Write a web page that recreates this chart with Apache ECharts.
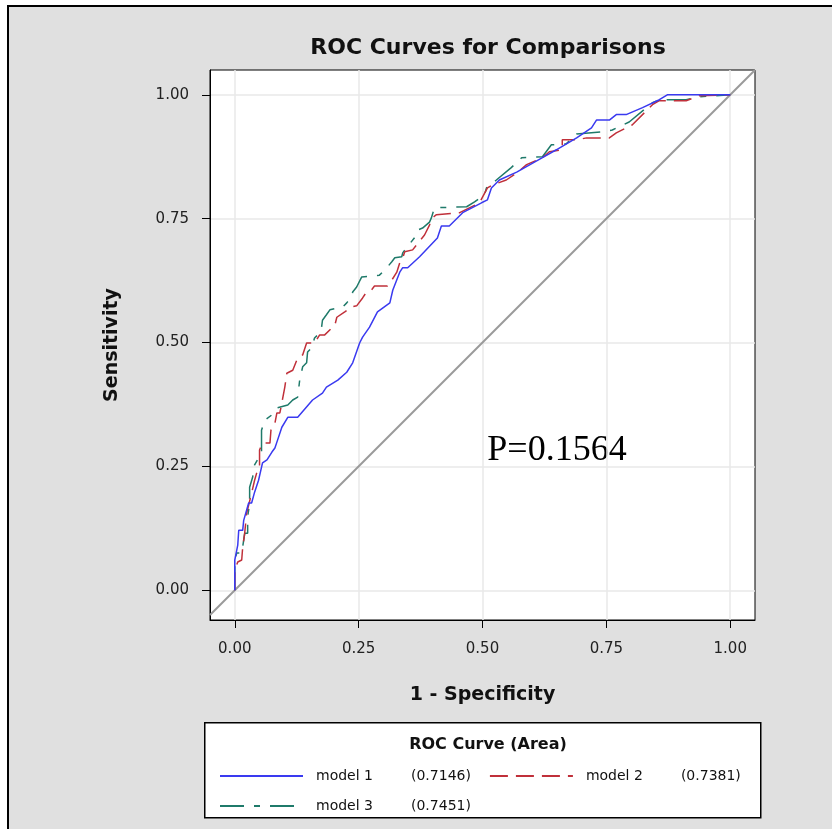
<!DOCTYPE html>
<html>
<head>
<meta charset="utf-8">
<script src="https://cdn.jsdelivr.net/npm/echarts@6/dist/echarts.min.js"></script>
<style>
html,body{margin:0;padding:0;width:832px;height:829px;overflow:hidden;background:#fff;}
#bg{position:absolute;left:7px;top:5px;width:900px;height:900px;background:#e0e0e0;border-left:2px solid #000;border-top:2px solid #000;}
#main{position:absolute;left:0;top:0;width:832px;height:829px;}
</style>
</head>
<body>
<div id="bg"></div>
<div id="main"></div>
<script>
// ---- data ----
const seriesNames = ['model 1', 'model 2', 'model 3'];
const aucValues = ['0.7146', '0.7381', '0.7451'];
const xTicks = [0, 0.25, 0.5, 0.75, 1];
const yTicks = [0, 0.25, 0.5, 0.75, 1];
const pLabel = 'P=0.1564';

const model1 = [[0,0],[0,0.061],[0.006,0.091],[0.008,0.121],[0.016,0.121],[0.018,0.141],[0.028,0.176],[0.034,0.176],[0.040,0.198],[0.048,0.222],[0.056,0.257],[0.065,0.263],[0.075,0.279],[0.081,0.287],[0.085,0.299],[0.095,0.329],[0.107,0.349],[0.127,0.349],[0.157,0.384],[0.177,0.398],[0.185,0.410],[0.208,0.424],[0.226,0.440],[0.238,0.459],[0.252,0.499],[0.258,0.511],[0.272,0.531],[0.288,0.562],[0.313,0.580],[0.319,0.606],[0.333,0.642],[0.339,0.651],[0.349,0.651],[0.373,0.673],[0.409,0.711],[0.417,0.735],[0.433,0.735],[0.460,0.762],[0.498,0.782],[0.510,0.788],[0.518,0.812],[0.534,0.828],[0.569,0.844],[0.621,0.873],[0.649,0.889],[0.690,0.913],[0.720,0.933],[0.730,0.949],[0.756,0.949],[0.770,0.960],[0.790,0.960],[0.823,0.974],[0.857,0.990],[0.873,1],[1,1]];

const model2 = [[0,0],[0,0.040],[0.006,0.057],[0.014,0.061],[0.016,0.087],[0.020,0.115],[0.024,0.156],[0.034,0.196],[0.040,0.222],[0.044,0.236],[0.050,0.248],[0.050,0.283],[0.056,0.297],[0.071,0.297],[0.073,0.323],[0.081,0.337],[0.085,0.358],[0.091,0.358],[0.095,0.378],[0.101,0.410],[0.105,0.438],[0.117,0.444],[0.127,0.469],[0.137,0.475],[0.145,0.499],[0.161,0.499],[0.171,0.515],[0.181,0.515],[0.202,0.535],[0.206,0.551],[0.222,0.562],[0.236,0.572],[0.246,0.574],[0.258,0.590],[0.266,0.602],[0.276,0.606],[0.282,0.614],[0.308,0.614],[0.317,0.626],[0.327,0.642],[0.333,0.661],[0.339,0.671],[0.343,0.683],[0.359,0.687],[0.367,0.697],[0.383,0.717],[0.393,0.737],[0.399,0.752],[0.407,0.758],[0.454,0.762],[0.494,0.782],[0.510,0.812],[0.520,0.818],[0.548,0.828],[0.569,0.842],[0.589,0.859],[0.621,0.873],[0.635,0.885],[0.661,0.889],[0.661,0.909],[0.690,0.909],[0.710,0.913],[0.756,0.913],[0.770,0.923],[0.802,0.939],[0.843,0.980],[0.857,0.988],[0.911,0.988],[0.937,0.998],[1,1]];

const model3 = [[0,0],[0,0.061],[0.004,0.075],[0.014,0.075],[0.018,0.101],[0.020,0.115],[0.026,0.115],[0.026,0.148],[0.030,0.176],[0.030,0.208],[0.036,0.228],[0.040,0.253],[0.054,0.277],[0.054,0.323],[0.060,0.343],[0.075,0.354],[0.081,0.360],[0.085,0.368],[0.107,0.374],[0.117,0.384],[0.127,0.390],[0.131,0.424],[0.137,0.451],[0.145,0.459],[0.147,0.481],[0.155,0.489],[0.161,0.509],[0.167,0.515],[0.175,0.529],[0.177,0.545],[0.185,0.556],[0.192,0.566],[0.218,0.572],[0.226,0.580],[0.236,0.592],[0.238,0.602],[0.246,0.612],[0.256,0.632],[0.292,0.636],[0.306,0.650],[0.317,0.663],[0.323,0.671],[0.337,0.673],[0.339,0.681],[0.367,0.717],[0.369,0.727],[0.379,0.731],[0.393,0.743],[0.397,0.752],[0.403,0.772],[0.468,0.774],[0.484,0.784],[0.504,0.798],[0.508,0.812],[0.528,0.828],[0.558,0.853],[0.579,0.873],[0.621,0.875],[0.639,0.899],[0.669,0.901],[0.690,0.921],[0.742,0.925],[0.762,0.929],[0.796,0.945],[0.843,0.984],[0.857,0.990],[0.911,0.990],[0.937,0.996],[1,1]];

const diagonal = [[-0.05,-0.05],[1.05,1.05]];

// ---- chart ----
const FONT = 'DejaVu Sans';
const colors = ['#3a3af0', '#c0303a', '#1f7a6a'];
const dashes = ['solid', [18, 8], [24, 10, 6, 10]];
const curves = [model1, model2, model3];

const chart = echarts.init(document.getElementById('main'), null, {renderer: 'canvas'});

const legendRich = {
  n: {fontFamily: FONT, fontSize: 14, color: '#111', width: 95, padding: [0, 0, 0, 8]},
  v: {fontFamily: FONT, fontSize: 14, color: '#111', width: 70}
};
function legendFmt(name) {
  const i = seriesNames.indexOf(name);
  return '{n|' + name + '}{v|(' + aucValues[i] + ')}';
}

const series = [{
  name: 'diag', type: 'line', data: diagonal, symbol: 'none', silent: true,
  lineStyle: {color: '#9a9a9a', width: 2}, z: 1
}];
for (let i = 2; i >= 0; i--) {
  series.push({
    name: seriesNames[i], type: 'line', data: curves[i], symbol: 'none', showSymbol: false,
    color: colors[i],
    lineStyle: {color: colors[i], width: 1.5, type: dashes[i]}, z: 3 + (2 - i)
  });
}

const legendCommon = {
  left: 214, orient: 'horizontal', itemWidth: 83, itemHeight: 14, itemGap: 18,
  formatter: legendFmt, textStyle: {rich: legendRich}, selectedMode: false,
  itemStyle: {opacity: 0, borderWidth: 0}
};

chart.setOption({
  animation: false,
  backgroundColor: 'transparent',
  title: [
    {text: 'ROC Curves for Comparisons', left: 483, top: 32, textAlign: 'center',
     textStyle: {fontFamily: FONT, fontSize: 22, fontWeight: 'bold', color: '#111'}},
    {text: 'ROC Curve (Area)', left: 483, top: 732, textAlign: 'center',
     textStyle: {fontFamily: FONT, fontSize: 16, fontWeight: 'bold', color: '#111'}}
  ],
  grid: {left: 210, right: 77, top: 70, bottom: 209, show: true, backgroundColor: '#fff', borderColor: '#000', borderWidth: 1},
  xAxis: {
    type: 'value', min: -0.05, max: 1.05,
    name: '1 - Specificity', nameLocation: 'middle', nameGap: 66,
    nameTextStyle: {fontFamily: FONT, fontSize: 19, fontWeight: 'bold', color: '#111'},
    axisLine: {show: true, onZero: false, lineStyle: {color: '#000', width: 1}},
    axisTick: {show: true, customValues: xTicks, length: 8, lineStyle: {color: '#000'}},
    axisLabel: {customValues: xTicks, formatter: v => v.toFixed(2), margin: 22, fontFamily: FONT, fontSize: 15, color: '#222'},
    splitLine: {show: true, lineStyle: {color: '#e8e8e8', width: 1.5}}
  },
  yAxis: {
    type: 'value', min: -0.06, max: 1.05,
    name: 'Sensitivity', nameLocation: 'middle', nameGap: 88, nameRotate: 90,
    nameTextStyle: {fontFamily: FONT, fontSize: 19, fontWeight: 'bold', color: '#111'},
    axisLine: {show: true, onZero: false, lineStyle: {color: '#000', width: 1}},
    axisTick: {show: true, customValues: yTicks, length: 8, lineStyle: {color: '#000'}},
    axisLabel: {customValues: yTicks, formatter: v => v.toFixed(2), margin: 21, fontFamily: FONT, fontSize: 15, color: '#222'},
    splitLine: {show: true, lineStyle: {color: '#e8e8e8', width: 1.5}}
  },
  legend: [
    Object.assign({data: [seriesNames[0], seriesNames[1]], top: 764}, legendCommon),
    Object.assign({data: [seriesNames[2]], top: 794}, legendCommon)
  ],
  graphic: [
    {type: 'rect', left: 204, top: 722, shape: {width: 556, height: 95}, style: {fill: '#fff', stroke: '#000', lineWidth: 1.5}, z: 0, silent: true},
    {type: 'group', left: 466, top: 417, z: 10, children: [
      {type: 'rect', shape: {x: 0, y: 0, width: 203, height: 68}, style: {fill: '#fff'}},
      {type: 'text', x: 91, y: 34, style: {text: pLabel, font: '36px "Liberation Serif"', fill: '#000', textAlign: 'center', textVerticalAlign: 'middle'}}
    ]}
  ],
  series: series
});
</script>
</body>
</html>
